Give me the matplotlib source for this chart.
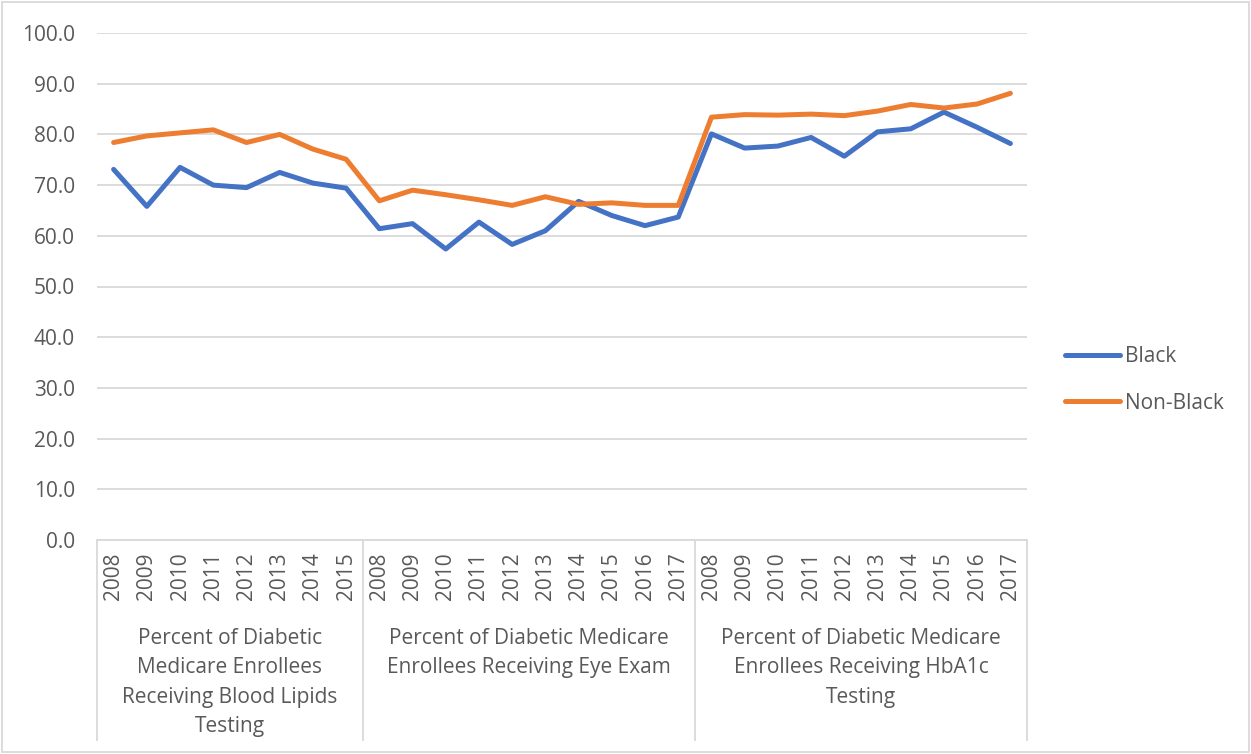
import numpy as np
import matplotlib
matplotlib.use('Agg')
import matplotlib.pyplot as plt
from matplotlib.lines import Line2D
from matplotlib.patches import Rectangle
import matplotlib.transforms as mtrans

plt.rcParams['font.family'] = ['Open Sans', 'DejaVu Sans']
txt = '#595959'
grid = '#d9d9d9'

# data
groups = ['Percent of Diabetic\nMedicare Enrollees\nReceiving Blood Lipids\nTesting',
          'Percent of Diabetic Medicare\nEnrollees Receiving Eye Exam',
          'Percent of Diabetic Medicare\nEnrollees Receiving HbA1c\nTesting']
years_lipids = ['2008', '2009', '2010', '2011', '2012', '2013', '2014', '2015']
years_eye = ['2008', '2009', '2010', '2011', '2012', '2013', '2014', '2015', '2016', '2017']
years_hba1c = ['2008', '2009', '2010', '2011', '2012', '2013', '2014', '2015', '2016', '2017']

black_lipids = [73.1, 65.8, 73.5, 70.0, 69.5, 72.5, 70.4, 69.4]
nonblack_lipids = [78.4, 79.7, 80.3, 80.9, 78.4, 80.0, 77.1, 75.1]
black_eye = [61.4, 62.4, 57.4, 62.7, 58.3, 61.0, 66.8, 64.0, 62.0, 63.7]
nonblack_eye = [66.9, 69.0, 68.1, 67.1, 66.0, 67.7, 66.2, 66.5, 66.0, 66.0]
black_hba1c = [80.1, 77.3, 77.7, 79.4, 75.7, 80.5, 81.1, 84.4, 81.4, 78.2]
nonblack_hba1c = [83.4, 83.9, 83.8, 84.0, 83.7, 84.6, 85.9, 85.2, 86.0, 88.1]

years = years_lipids + years_eye + years_hba1c
black = black_lipids + black_eye + black_hba1c
nonblack = nonblack_lipids + nonblack_eye + nonblack_hba1c
sizes = [len(years_lipids), len(years_eye), len(years_hba1c)]
x = np.arange(len(years))

W, H = 1251, 754
fs = 15
fig = plt.figure(figsize=(W / 100, H / 100), dpi=100)
ax = fig.add_axes([97 / W, (H - 540) / H, 930 / W, 507 / H])

ax.plot(x, black, color='#4472C4', lw=3.6, solid_capstyle='round', solid_joinstyle='round', label='Black', zorder=3)
ax.plot(x, nonblack, color='#ED7D31', lw=3.6, solid_capstyle='round', solid_joinstyle='round', label='Non-Black', zorder=3)

ax.set_xlim(-0.5, len(years) - 0.5)
ax.set_ylim(0, 100)
ax.set_yticks(np.arange(0, 101, 10))
ax.set_yticklabels(['%.1f' % v for v in np.arange(0, 101, 10)])
ax.yaxis.grid(True, color=grid, lw=1.3)
ax.set_axisbelow(True)
for s in ['top', 'right', 'left']:
    ax.spines[s].set_visible(False)
ax.spines['bottom'].set_color(grid)
ax.spines['bottom'].set_linewidth(1.3)
ax.tick_params(axis='y', length=0, pad=16, labelsize=fs, labelcolor=txt)
ax.set_xticks(x)
ax.set_xticklabels(years, rotation=90)
ax.tick_params(axis='x', length=0, pad=9, labelsize=fs, labelcolor=txt)

# group separators and labels
tr = mtrans.blended_transform_factory(ax.transData, fig.transFigure)
edges = np.concatenate([[0], np.cumsum(sizes)]) - 0.5
for e in edges:
    fig.add_artist(Line2D([e, e], [(H - 540) / H, (H - 740) / H], transform=tr, color=grid, lw=1.3))
for i, g in enumerate(groups):
    c = (edges[i] + edges[i + 1]) / 2
    fig.text(c, (H - 628) / H, g, transform=tr, ha='center', va='top', fontsize=fs,
             color=txt, linespacing=1.53, multialignment='center')

# outer frame
fig.add_artist(Rectangle((2 / W, 2 / H), (W - 4) / W, (H - 4) / H, transform=fig.transFigure,
                         fill=False, edgecolor=grid, lw=1.3))

leg = fig.legend(loc='center left', bbox_to_anchor=(1046 / W, (H - 380) / H), frameon=False,
                 fontsize=fs, handlelength=2.65, handletextpad=0.25, labelspacing=1.22)
for t in leg.get_texts():
    t.set_color(txt)

fig.savefig('out.png', dpi=100)
